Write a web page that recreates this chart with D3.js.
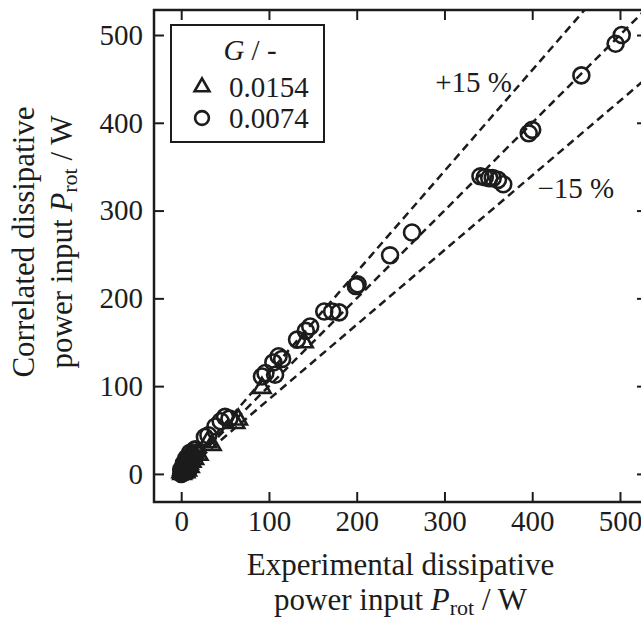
<!DOCTYPE html>
<html>
<head>
<meta charset="utf-8">
<script src="https://cdn.jsdelivr.net/npm/d3@7"></script>
<style>
    body { margin: 0; background: #fff; }
    svg { display: block; font-family: "Liberation Serif", "DejaVu Serif", serif; }
</style>
</head>
<body>
<div id="chart"></div>
<script>
// experimental vs correlated dissipative power
const xTicks = [0, 100, 200, 300, 400, 500];
const yTicks = [0, 100, 200, 300, 400, 500];

// G = 0.0074 (circles)
const g0074Exp = [502, 495, 456, 396, 400, 341, 346, 351, 355, 361, 367, 263, 238, 199, 201,
    163, 172, 180, 147, 142, 132, 115, 111, 105, 107, 96, 92, 50, 55, 45, 39, 31, 27,
    15, 12, 10, 8, 5, 4, 3, 2, 1, 6, 14, 0, 1, 2, 3, 5, 7, 9, 4, 18, 16,
    1, 2, 4, 6, 8, 10, 12, 3, 0, 6];
const g0074Corr = [500, 490, 454, 388, 392, 339, 338, 337, 337, 335, 330, 275, 249, 214, 216,
    185, 185, 184, 168, 163, 153, 131, 134, 127, 113, 115, 111, 65, 63, 60, 54, 44, 42,
    27, 22, 24, 18, 12, 8, 6, 4, 2, 15, 20, 0, 3, 1, 9, 5, 10, 14, 11, 24, 28,
    1, 6, 2, 8, 5, 17, 16, 12, 5, 18];

// G = 0.0154 (triangles)
const g0154Exp = [140, 92, 62, 65, 35, 30, 20, 15, 12, 8, 6, 4, 3, 2, 1, 5, 10, 0, 1, 3, 5, 7, 9];
const g0154Corr = [150, 98, 58, 62, 33, 36, 22, 17, 14, 10, 7, 4, 3, 1, 0, 2, 8, 2, 5, 6, 9, 4, 12];

// reference lines y = r * x
const lineRatios = [1, 1.15, 0.85];
const legendTitle = "G";
const legendLabels = ["0.0154", "0.0074"];

const width = 641;
const height = 619;
const plotLeft = 154, plotRight = 647, plotTop = 10, plotBottom = 502;
const ink = "#1c1c1c";
const serif = '"Liberation Serif", "DejaVu Serif", serif';

let x = d3.scaleLinear().domain([-31, 530.8]).range([plotLeft, plotRight]);
let y = d3.scaleLinear().domain([-32, 528.5]).range([plotBottom, plotTop]);

let svg = d3.select("#chart")
    .append("svg")
    .attr("width", width)
    .attr("height", height);

svg.append("rect")
    .attr("width", width)
    .attr("height", height)
    .attr("fill", "#fff");

svg.append("defs")
    .append("clipPath")
    .attr("id", "plot-clip")
    .append("rect")
    .attr("x", plotLeft)
    .attr("y", plotTop)
    .attr("width", plotRight - plotLeft)
    .attr("height", plotBottom - plotTop);

// axes, ticks pointing inward on all four sides
function styleAxis(g) {
    g.attr("font-family", serif);
    g.select(".domain").remove();
    g.selectAll(".tick line").attr("stroke", ink).attr("stroke-width", 2);
    g.selectAll(".tick text")
        .attr("fill", ink)
        .style("font-size", "29px");
}

svg.append("g")
    .attr("transform", `translate(0, ${plotBottom})`)
    .call(d3.axisBottom(x).tickValues(xTicks).tickSizeInner(-10).tickSizeOuter(0).tickPadding(8))
    .call(styleAxis);

svg.append("g")
    .attr("transform", `translate(0, ${plotTop})`)
    .call(d3.axisTop(x).tickValues(xTicks).tickSizeInner(-10).tickSizeOuter(0).tickFormat(""))
    .call(styleAxis);

svg.append("g")
    .attr("transform", `translate(${plotLeft}, 0)`)
    .call(d3.axisLeft(y).tickValues(yTicks).tickSizeInner(-10).tickSizeOuter(0).tickPadding(11))
    .call(styleAxis);

svg.append("g")
    .attr("transform", `translate(${plotRight}, 0)`)
    .call(d3.axisRight(y).tickValues(yTicks).tickSizeInner(-10).tickSizeOuter(0).tickFormat(""))
    .call(styleAxis);

// dashed reference lines (1:1 and +/-15 %)
let plot = svg.append("g").attr("clip-path", "url(#plot-clip)");

plot.selectAll("path.ref")
    .data(lineRatios)
    .enter()
    .append("path")
    .attr("class", "ref")
    .attr("d", (r) => d3.line()([[x(0), y(0)], [x(600), y(600 * r)]]))
    .attr("fill", "none")
    .attr("stroke", ink)
    .attr("stroke-width", 2.5)
    .attr("stroke-dasharray", "8,5");

// markers
let circleSym = d3.symbol().type(d3.symbolCircle).size(200);
let triSym = d3.symbol().type(d3.symbolTriangle).size(130);

plot.selectAll("path.tri")
    .data(d3.zip(g0154Exp, g0154Corr))
    .enter()
    .append("path")
    .attr("class", "tri")
    .attr("d", triSym)
    .attr("transform", (d) => `translate(${x(d[0])}, ${y(d[1])})`)
    .attr("fill", "none")
    .attr("stroke", ink)
    .attr("stroke-width", 2.6);

plot.selectAll("path.circ")
    .data(d3.zip(g0074Exp, g0074Corr))
    .enter()
    .append("path")
    .attr("class", "circ")
    .attr("d", circleSym)
    .attr("transform", (d) => `translate(${x(d[0])}, ${y(d[1])})`)
    .attr("fill", "none")
    .attr("stroke", ink)
    .attr("stroke-width", 2.6);

// frame goes on top of everything
svg.append("rect")
    .attr("x", plotLeft)
    .attr("y", plotTop)
    .attr("width", plotRight - plotLeft)
    .attr("height", plotBottom - plotTop)
    .attr("fill", "none")
    .attr("stroke", ink)
    .attr("stroke-width", 2.5);

// +/-15 % annotations
svg.append("text")
    .attr("x", x(377))
    .attr("y", y(435))
    .attr("text-anchor", "end")
    .attr("fill", ink)
    .style("font-size", "29px")
    .text("+15 %");

svg.append("text")
    .attr("x", x(406))
    .attr("y", y(314))
    .attr("fill", ink)
    .style("font-size", "29px")
    .text("\u221215 %");

// legend
let legend = svg.append("g");
legend.append("rect")
    .attr("x", 171)
    .attr("y", 25)
    .attr("width", 153)
    .attr("height", 117)
    .attr("fill", "#fff")
    .attr("stroke", ink)
    .attr("stroke-width", 2);

let title = legend.append("text")
    .attr("x", 250)
    .attr("y", 60)
    .attr("text-anchor", "middle")
    .attr("fill", ink)
    .style("font-size", "29px");
title.append("tspan").style("font-style", "italic").text(legendTitle);
title.append("tspan").text(" / -");

let legendSyms = [d3.symbol().type(d3.symbolTriangle).size(95), d3.symbol().type(d3.symbolCircle).size(150)];
legendLabels.forEach((label, i) => {
    let rowY = 87 + i * 31;
    legend.append("path")
        .attr("d", legendSyms[i])
        .attr("transform", `translate(202, ${rowY})`)
        .attr("fill", "none")
        .attr("stroke", ink)
        .attr("stroke-width", 2.6);
    legend.append("text")
        .attr("x", 229)
        .attr("y", rowY)
        .attr("dy", "0.35em")
        .attr("fill", ink)
        .style("font-size", "29px")
        .text(label);
});

// axis titles
let xTitle = svg.append("g")
    .attr("text-anchor", "middle")
    .attr("fill", ink)
    .style("font-size", "31px");
xTitle.append("text").attr("x", (plotLeft + plotRight) / 2).attr("y", 575).text("Experimental dissipative");
let xLine2 = xTitle.append("text").attr("x", (plotLeft + plotRight) / 2).attr("y", 610);
xLine2.append("tspan").text("power input ");
xLine2.append("tspan").style("font-style", "italic").text("P");
xLine2.append("tspan").attr("dy", 5).style("font-size", "22px").text("rot");
xLine2.append("tspan").attr("dy", -5).text(" / W");

let yTitle = svg.append("g")
    .attr("transform", "translate(0, 242) rotate(-90)")
    .attr("text-anchor", "middle")
    .attr("fill", ink)
    .style("font-size", "31px");
yTitle.append("text").attr("x", 0).attr("y", 34).text("Correlated dissipative");
let yLine2 = yTitle.append("text").attr("x", 0).attr("y", 72);
yLine2.append("tspan").text("power input ");
yLine2.append("tspan").style("font-style", "italic").text("P");
yLine2.append("tspan").attr("dy", 5).style("font-size", "22px").text("rot");
yLine2.append("tspan").attr("dy", -5).text(" / W");
</script>
</body>
</html>
